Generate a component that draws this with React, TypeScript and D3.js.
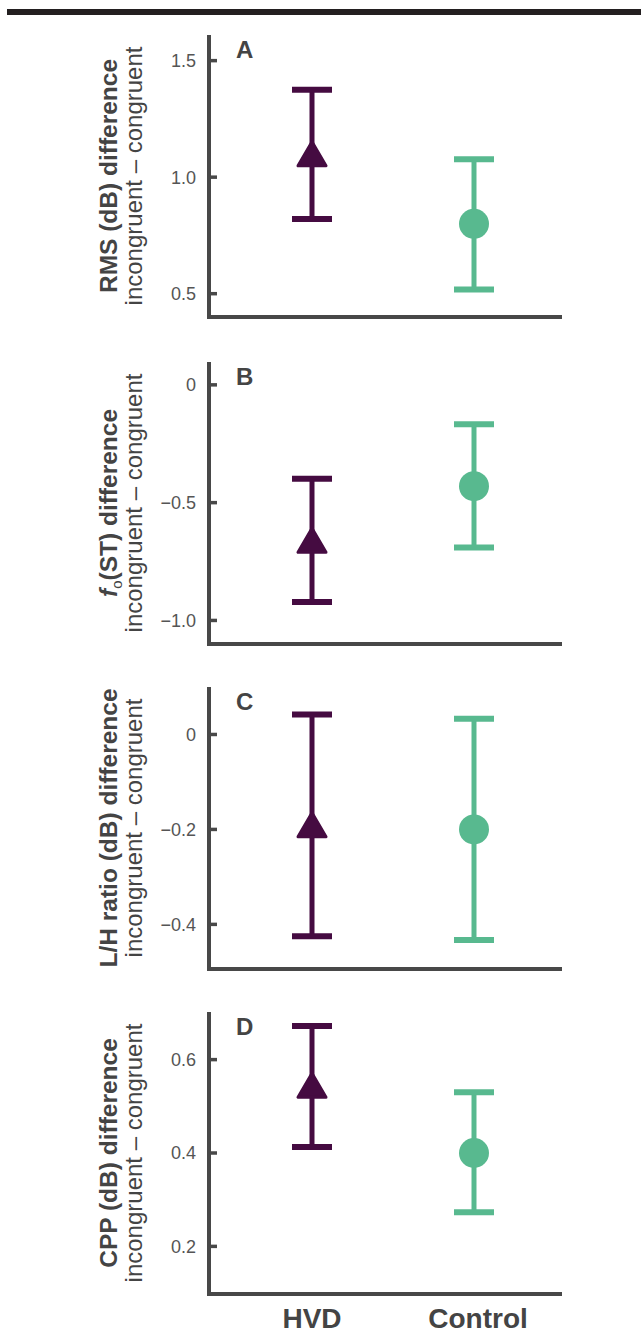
import React from "react";
import * as d3 from "d3";

// groups on the x axis
const groups = ["HVD", "Control"];
const panelLetters = ["A", "B", "C", "D"];
const boldLabels = ["RMS (dB) difference", "(ST) difference", "L/H ratio (dB) difference", "CPP (dB) difference"];
const subLabel = "incongruent \u2013 congruent";

// mean + 95% CI
const hvdMean = [1.1, -0.66, -0.19, 0.545];
const hvdLow = [0.82, -0.922, -0.425, 0.413];
const hvdHigh = [1.375, -0.399, 0.042, 0.672];
const ctrlMean = [0.8, -0.43, -0.2, 0.4];
const ctrlLow = [0.518, -0.69, -0.433, 0.273];
const ctrlHigh = [1.077, -0.167, 0.033, 0.53];

const yDomains: [number, number][] = [[0.4, 1.61], [-1.1, 0.097], [-0.494, 0.1], [0.098, 0.702]];
const yTicks = [[0.5, 1.0, 1.5], [-1.0, -0.5, 0], [-0.4, -0.2, 0], [0.2, 0.4, 0.6]];

const W = 641;
const H = 1340;
const axisX = 209;
const axisRight = 562;
const panelTops = [35, 362, 687, 1012];
const panelH = 282;

const purple = "#450b41";
const green = "#58b98f";
const axisColor = "#484848";
const textColor = "#444444";
const tickColor = "#555555";
const font = "'Liberation Sans', Arial, sans-serif";

const fmt = (d: number) => (d === 0 ? "0" : d3.format(".1f")(d));

const x = d3.scalePoint<string>().domain(groups).range([312, 474]);

const ErrorBar = ({ cx, y, mean, lo, hi, color, shape }: any) => {
  const cy = y(mean);
  return (
    <g>
      <line x1={cx} x2={cx} y1={y(hi)} y2={y(lo)} stroke={color} strokeWidth={5} />
      <line x1={cx - 20} x2={cx + 20} y1={y(hi)} y2={y(hi)} stroke={color} strokeWidth={6} />
      <line x1={cx - 20} x2={cx + 20} y1={y(lo)} y2={y(lo)} stroke={color} strokeWidth={6} />
      {shape === "tri" ? (
        <path
          d={`M${cx},${cy - 12} L${cx - 14},${cy + 12} L${cx + 14},${cy + 12} Z`}
          fill={color}
          stroke={color}
          strokeWidth={3}
          strokeLinejoin="round"
        />
      ) : (
        <circle cx={cx} cy={cy} r={15} fill={color} />
      )}
    </g>
  );
};

const Panel = ({ i }: { i: number }) => {
  const top = panelTops[i];
  const bottom = top + panelH;
  const y = d3.scaleLinear().domain(yDomains[i]).range([bottom, top]);
  const mid = (top + bottom) / 2;
  return (
    <g>
      {/* axes */}
      <line x1={axisX} x2={axisX} y1={top} y2={bottom + 2} stroke={axisColor} strokeWidth={4} />
      <line x1={axisX - 2} x2={axisRight} y1={bottom} y2={bottom} stroke={axisColor} strokeWidth={4} />
      {yTicks[i].map((t) => (
        <g key={t}>
          <line x1={axisX} x2={axisX + 8} y1={y(t)} y2={y(t)} stroke={axisColor} strokeWidth={3.5} />
          <text x={196} y={y(t)} dy="0.36em" textAnchor="end" fontSize={18} fill={tickColor} fontFamily={font}>
            {fmt(t)}
          </text>
        </g>
      ))}
      <text x={236} y={top + 23} fontSize={24} fontWeight="bold" fill={textColor} fontFamily={font}>
        {panelLetters[i]}
      </text>
      {/* y label, two lines */}
      <text
        transform={`translate(117,${mid}) rotate(-90)`}
        textAnchor="middle"
        fontSize={24.5}
        fontWeight="bold"
        fill={textColor}
        fontFamily={font}
      >
        {i === 1 ? (
          <>
            <tspan fontStyle="italic">f</tspan>
            <tspan fontSize={15} fontWeight="normal" dy={5}>o</tspan>
            <tspan dy={-5}>{boldLabels[i]}</tspan>
          </>
        ) : (
          boldLabels[i]
        )}
      </text>
      <text
        transform={`translate(142,${mid}) rotate(-90)`}
        textAnchor="middle"
        fontSize={24}
        fill={textColor}
        fontFamily={font}
      >
        {subLabel}
      </text>
      <ErrorBar cx={x("HVD")} y={y} mean={hvdMean[i]} lo={hvdLow[i]} hi={hvdHigh[i]} color={purple} shape="tri" />
      <ErrorBar cx={x("Control")} y={y} mean={ctrlMean[i]} lo={ctrlLow[i]} hi={ctrlHigh[i]} color={green} shape="circle" />
    </g>
  );
};

export default function App() {
  return (
    <svg width={W} height={H} style={{ position: "absolute", left: 0, top: 0, background: "#fff" }}>
      <rect x={7} y={9} width={W - 7} height={6} fill="#231f20" />
      {panelLetters.map((_, i) => (
        <Panel key={i} i={i} />
      ))}
      {groups.map((g) => (
        <text
          key={g}
          x={(x(g) as number) + (g === "Control" ? 4 : 0)}
          y={1328}
          textAnchor="middle"
          fontSize={28}
          fontWeight="bold"
          fill={textColor}
          fontFamily={font}
        >
          {g}
        </text>
      ))}
    </svg>
  );
}
